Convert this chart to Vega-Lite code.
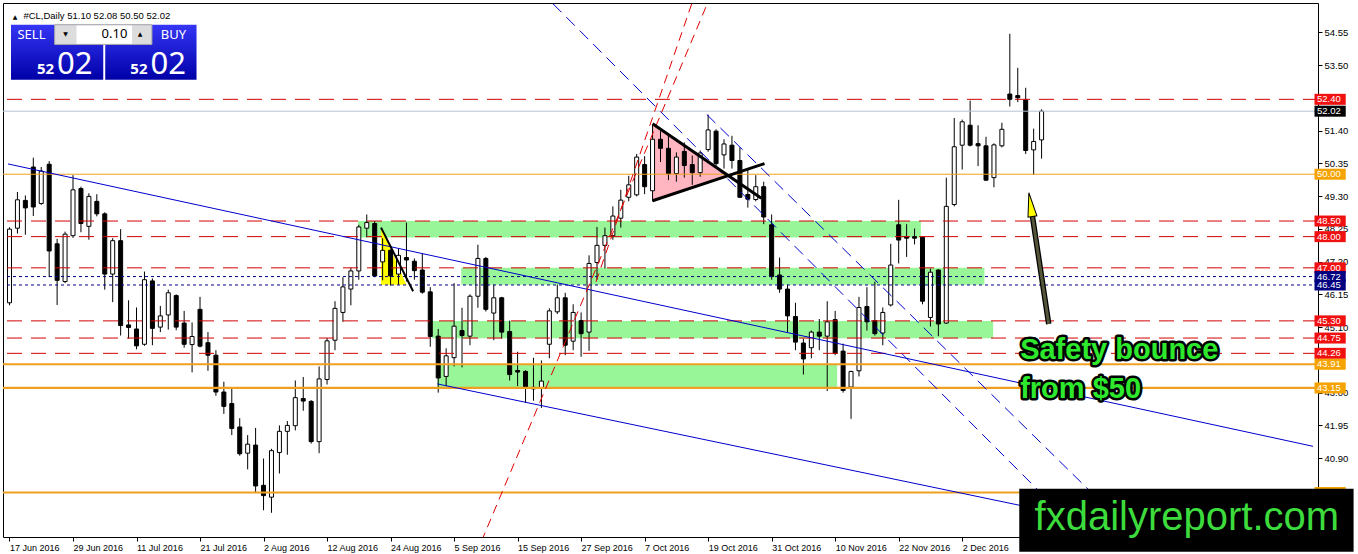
{
"$schema":"https://vega.github.io/schema/vega-lite/v6.json",
"width":1315,"height":534,
"autosize":{"type":"none"},
"padding":{"left":3,"top":3,"right":40,"bottom":17},
"background":"white",
"config":{"view":{"stroke":"black","strokeWidth":1},"axis":{"grid":false,"domain":false}},
"resolve":{"axis":{"x":"independent","y":"independent"}},
"datasets":{
"candles":[
{"i":0,"o":45.88,"h":48.30,"l":45.80,"c":48.24},
{"i":1,"o":48.27,"h":49.43,"l":48.10,"c":49.18},
{"i":2,"o":49.16,"h":49.32,"l":48.06,"c":48.92},
{"i":3,"o":50.23,"h":50.53,"l":48.66,"c":48.95},
{"i":4,"o":49.06,"h":50.23,"l":49.02,"c":50.10},
{"i":5,"o":50.32,"h":50.42,"l":46.70,"c":47.54},
{"i":6,"o":47.77,"h":47.93,"l":45.81,"c":46.60},
{"i":7,"o":46.56,"h":48.16,"l":46.51,"c":48.08},
{"i":8,"o":48.03,"h":49.97,"l":47.96,"c":49.50},
{"i":9,"o":49.54,"h":49.60,"l":48.14,"c":48.42},
{"i":10,"o":48.33,"h":49.39,"l":47.90,"c":49.29},
{"i":11,"o":49.13,"h":49.36,"l":48.65,"c":48.73},
{"i":12,"o":48.73,"h":48.78,"l":46.30,"c":46.80},
{"i":13,"o":46.80,"h":47.95,"l":45.90,"c":47.87},
{"i":14,"o":47.87,"h":48.24,"l":44.83,"c":45.15},
{"i":15,"o":45.17,"h":45.96,"l":44.73,"c":45.09},
{"i":16,"o":45.04,"h":45.73,"l":44.39,"c":44.50},
{"i":17,"o":44.55,"h":46.88,"l":44.50,"c":46.62},
{"i":18,"o":46.58,"h":46.66,"l":44.52,"c":45.06},
{"i":19,"o":45.10,"h":45.78,"l":44.94,"c":45.46},
{"i":20,"o":45.49,"h":46.30,"l":45.02,"c":46.20},
{"i":21,"o":46.11,"h":46.15,"l":45.00,"c":45.10},
{"i":22,"o":45.23,"h":45.62,"l":44.44,"c":44.55},
{"i":23,"o":44.54,"h":45.25,"l":43.65,"c":44.80},
{"i":24,"o":45.67,"h":46.07,"l":44.45,"c":44.49},
{"i":25,"o":44.60,"h":44.94,"l":43.70,"c":44.20},
{"i":26,"o":44.20,"h":44.36,"l":42.90,"c":43.02},
{"i":27,"o":43.02,"h":43.35,"l":42.32,"c":42.56},
{"i":28,"o":42.65,"h":43.18,"l":41.64,"c":41.85},
{"i":29,"o":41.90,"h":42.18,"l":40.98,"c":41.04},
{"i":30,"o":41.06,"h":41.64,"l":40.54,"c":41.35},
{"i":31,"o":41.32,"h":41.87,"l":39.78,"c":40.01},
{"i":32,"o":40.03,"h":40.89,"l":39.23,"c":39.70},
{"i":33,"o":39.65,"h":41.20,"l":39.15,"c":41.14},
{"i":34,"o":41.08,"h":41.95,"l":40.41,"c":41.76},
{"i":35,"o":41.76,"h":42.09,"l":41.01,"c":41.95},
{"i":36,"o":41.94,"h":43.39,"l":41.79,"c":42.84},
{"i":37,"o":42.81,"h":43.50,"l":42.42,"c":42.73},
{"i":38,"o":42.72,"h":42.76,"l":41.37,"c":41.43},
{"i":39,"o":41.43,"h":43.84,"l":41.06,"c":43.44},
{"i":40,"o":43.42,"h":44.75,"l":43.26,"c":44.66},
{"i":41,"o":44.68,"h":45.93,"l":44.36,"c":45.70},
{"i":42,"o":45.57,"h":46.70,"l":45.27,"c":46.39},
{"i":43,"o":46.32,"h":47.01,"l":45.80,"c":46.90},
{"i":44,"o":46.90,"h":48.38,"l":46.62,"c":48.31},
{"i":45,"o":48.27,"h":48.71,"l":47.98,"c":48.45},
{"i":46,"o":48.42,"h":48.50,"l":46.70,"c":46.74},
{"i":47,"o":47.19,"h":47.95,"l":46.60,"c":47.56},
{"i":48,"o":47.56,"h":47.60,"l":46.43,"c":46.74},
{"i":49,"o":46.80,"h":47.61,"l":46.46,"c":47.40},
{"i":50,"o":47.33,"h":48.45,"l":46.56,"c":47.25},
{"i":51,"o":47.21,"h":47.30,"l":46.62,"c":46.91},
{"i":52,"o":46.93,"h":47.46,"l":46.17,"c":46.22},
{"i":53,"o":46.23,"h":46.38,"l":44.47,"c":44.80},
{"i":54,"o":44.81,"h":45.04,"l":43.00,"c":43.47},
{"i":55,"o":43.52,"h":44.42,"l":43.21,"c":44.18},
{"i":56,"o":44.12,"h":46.51,"l":43.84,"c":45.13},
{"i":57,"o":44.99,"h":45.72,"l":43.81,"c":44.83},
{"i":58,"o":44.81,"h":46.15,"l":44.52,"c":46.09},
{"i":59,"o":46.09,"h":47.74,"l":45.72,"c":47.30},
{"i":60,"o":47.30,"h":47.35,"l":45.60,"c":45.67},
{"i":61,"o":45.55,"h":46.46,"l":44.68,"c":46.04},
{"i":62,"o":46.04,"h":46.07,"l":44.73,"c":44.94},
{"i":63,"o":44.96,"h":45.31,"l":43.39,"c":43.58},
{"i":64,"o":43.71,"h":44.31,"l":43.21,"c":43.66},
{"i":65,"o":43.68,"h":43.72,"l":42.68,"c":43.14},
{"i":66,"o":43.17,"h":44.12,"l":42.74,"c":43.12},
{"i":67,"o":43.14,"h":44.03,"l":42.51,"c":43.37},
{"i":68,"o":44.55,"h":45.70,"l":44.10,"c":45.62},
{"i":69,"o":45.59,"h":46.46,"l":45.52,"c":46.04},
{"i":70,"o":46.04,"h":46.20,"l":44.20,"c":44.52},
{"i":71,"o":44.65,"h":45.83,"l":44.36,"c":45.57},
{"i":72,"o":45.31,"h":45.57,"l":44.15,"c":44.89},
{"i":73,"o":44.94,"h":47.40,"l":44.34,"c":47.14},
{"i":74,"o":47.17,"h":48.31,"l":46.62,"c":47.72},
{"i":75,"o":47.72,"h":48.29,"l":46.98,"c":48.03},
{"i":76,"o":48.03,"h":48.97,"l":47.90,"c":48.66},
{"i":77,"o":48.59,"h":49.50,"l":48.29,"c":49.17},
{"i":78,"o":49.26,"h":49.95,"l":49.13,"c":49.66},
{"i":79,"o":49.34,"h":50.65,"l":49.29,"c":50.55},
{"i":80,"o":50.31,"h":50.58,"l":49.36,"c":49.60},
{"i":81,"o":49.47,"h":51.59,"l":49.13,"c":51.12},
{"i":82,"o":51.12,"h":51.38,"l":50.39,"c":50.83},
{"i":83,"o":50.83,"h":51.23,"l":49.81,"c":50.02},
{"i":84,"o":50.02,"h":50.70,"l":49.76,"c":50.55},
{"i":85,"o":50.73,"h":51.02,"l":49.89,"c":50.28},
{"i":86,"o":50.31,"h":50.60,"l":49.66,"c":50.05},
{"i":87,"o":50.05,"h":50.76,"l":49.92,"c":50.68},
{"i":88,"o":50.79,"h":51.91,"l":50.72,"c":51.42},
{"i":89,"o":51.38,"h":51.44,"l":50.23,"c":50.34},
{"i":90,"o":50.62,"h":51.12,"l":50.18,"c":50.97},
{"i":91,"o":50.93,"h":51.23,"l":50.18,"c":50.44},
{"i":92,"o":50.44,"h":50.86,"l":49.24,"c":49.26},
{"i":93,"o":49.35,"h":50.20,"l":48.93,"c":49.20},
{"i":94,"o":49.19,"h":49.97,"l":49.13,"c":49.60},
{"i":95,"o":49.60,"h":49.76,"l":48.40,"c":48.63},
{"i":96,"o":48.38,"h":48.71,"l":46.62,"c":46.72},
{"i":97,"o":46.77,"h":47.33,"l":46.20,"c":46.32},
{"i":98,"o":46.32,"h":46.46,"l":44.94,"c":45.46},
{"i":99,"o":45.44,"h":45.88,"l":44.36,"c":44.62},
{"i":100,"o":44.59,"h":44.73,"l":43.58,"c":44.08},
{"i":101,"o":44.44,"h":44.99,"l":44.10,"c":44.94},
{"i":102,"o":44.94,"h":45.36,"l":44.36,"c":44.81},
{"i":103,"o":44.81,"h":45.93,"l":43.05,"c":45.27},
{"i":104,"o":45.34,"h":45.62,"l":44.20,"c":44.26},
{"i":105,"o":44.33,"h":44.57,"l":43.00,"c":43.07},
{"i":106,"o":43.18,"h":43.70,"l":42.16,"c":43.68},
{"i":107,"o":43.70,"h":46.07,"l":43.52,"c":45.73},
{"i":108,"o":45.76,"h":46.38,"l":44.99,"c":45.27},
{"i":109,"o":45.31,"h":46.56,"l":44.83,"c":44.89},
{"i":110,"o":44.91,"h":45.73,"l":44.52,"c":45.57},
{"i":111,"o":45.81,"h":47.77,"l":45.76,"c":47.09},
{"i":112,"o":48.38,"h":49.18,"l":47.14,"c":47.89},
{"i":113,"o":48.00,"h":48.40,"l":47.35,"c":47.95},
{"i":114,"o":48.00,"h":48.26,"l":47.75,"c":47.95},
{"i":115,"o":47.98,"h":48.00,"l":45.83,"c":45.93},
{"i":116,"o":45.41,"h":46.98,"l":45.12,"c":46.86},
{"i":117,"o":46.93,"h":46.95,"l":44.81,"c":45.20},
{"i":118,"o":45.23,"h":49.89,"l":45.20,"c":48.97},
{"i":119,"o":49.03,"h":51.80,"l":48.97,"c":50.88},
{"i":120,"o":50.93,"h":51.75,"l":50.15,"c":51.68},
{"i":121,"o":51.57,"h":52.36,"l":50.89,"c":50.93},
{"i":122,"o":50.98,"h":51.57,"l":50.26,"c":50.91},
{"i":123,"o":50.91,"h":51.20,"l":49.78,"c":49.81},
{"i":124,"o":49.89,"h":50.99,"l":49.58,"c":50.94},
{"i":125,"o":50.91,"h":51.65,"l":50.86,"c":51.44},
{"i":126,"o":52.57,"h":54.50,"l":52.17,"c":52.40},
{"i":127,"o":52.52,"h":53.41,"l":52.31,"c":52.45},
{"i":128,"o":52.38,"h":52.77,"l":50.65,"c":50.76},
{"i":129,"o":50.78,"h":51.46,"l":49.98,"c":51.05},
{"i":130,"o":51.10,"h":52.08,"l":50.50,"c":52.02}
],
"zones":[
{"i1":43.9,"i2":114.8,"p1":48.50,"p2":47.97},
{"i1":56.9,"i2":122.8,"p1":47.00,"p2":46.46},
{"i1":53.25,"i2":123.9,"p1":45.30,"p2":44.74},
{"i1":53.9,"i2":104.25,"p1":43.91,"p2":43.14}
],
"levels":[
{"p":52.40,"type":"level"},{"p":48.50,"type":"level"},{"p":48.00,"type":"level"},{"p":47.00,"type":"level"},
{"p":45.30,"type":"level"},{"p":44.75,"type":"level"},{"p":44.26,"type":"level"},
{"p":46.72,"type":"pivot"},{"p":46.45,"type":"pivot"},
{"p":50.00,"type":"round"},
{"p":43.91,"type":"key"},{"p":43.15,"type":"key"},{"p":39.80,"type":"key"},
{"p":52.02,"type":"bid"}
],
"lines":[
{"line":"trend1","i":-0.1875,"p":50.33},{"line":"trend1","i":164.1875,"p":41.28},
{"line":"trend2","i":53.9,"p":43.28},{"line":"trend2","i":164.1875,"p":37.43},
{"line":"fan1","i":60,"p":57.62},{"line":"fan1","i":140,"p":37.21},
{"line":"fan2","i":87.84,"p":51.91},{"line":"fan2","i":145,"p":37.62},
{"line":"rise1","i":58,"p":37.36},{"line":"rise1","i":90,"p":56.74},
{"line":"rise2","i":73.875,"p":46.55},{"line":"rise2","i":88,"p":56.99},
{"line":"penUp","i":81,"p":51.62},{"line":"penUp","i":94.7,"p":49.23},
{"line":"penLow","i":81,"p":49.15},{"line":"penLow","i":95.1,"p":50.34},
{"line":"flag","i":46.8,"p":48.29},{"line":"flag","i":50.84,"p":46.25}
],
"pennant":[{"i":81,"top":51.62,"bot":49.15},{"i":90.4,"top":49.94,"bot":49.94}],
"flag":[{"i":46.8,"top":48.29,"bot":46.46},{"i":50.0,"top":46.46,"bot":46.46}],
"arrow":[{"i":130.9,"p":45.20},{"i":128.85,"p":48.65}],
"arrowHead":[{"i":128.68,"p":48.93}],
"notes":[{"t":"Safety bounce","i":127.3,"p":44.07},{"t":"from $50","i":127.3,"p":42.84}],
"brand":[{"t":"fxdailyreport.com","i":148.3,"p":38.6,"i1":127.19,"i2":169.3,"p1":39.92,"p2":37.9}],
"panel":[
{"part":"sell","i1":0.19,"i2":11.81,"p1":54.79,"p2":53.03},
{"part":"buy","i1":12.06,"i2":23.56,"p1":54.79,"p2":53.03},
{"part":"spin","i1":5.69,"i2":17.94,"p1":54.79,"p2":54.16},
{"part":"input","i1":8.44,"i2":15.44,"p1":54.77,"p2":54.18}
],
"panelText":[
{"role":"side","t":"SELL","i":2.77,"p":54.45},
{"role":"side","t":"BUY","i":20.65,"p":54.45},
{"role":"lot","t":"0.10","i":14.85,"p":54.48},
{"role":"step","t":"▼","i":7.06,"p":54.48},
{"role":"step","t":"▲","i":16.44,"p":54.48},
{"role":"pips","t":"52","i":5.63,"p":53.22},
{"role":"pips","t":"52","i":17.38,"p":53.22},
{"role":"quote","t":"02","i":6.0,"p":53.22},
{"role":"quote","t":"02","i":17.75,"p":53.22},
{"role":"symbol","t":"#CL,Daily  51.10 52.08 50.50 52.02","i":1.75,"p":54.965},
{"role":"marker","t":"▲","i":0.69,"p":54.965}
]
},
"layer":[
{"data":{"name":"zones"},
 "mark":{"type":"rect","color":"#98f598"},
 "encoding":{
  "x":{"field":"i1","type":"quantitative","scale":{"domain":[-0.1875,164.1875],"nice":false,"zero":false},
   "axis":{"title":null,"values":[0,8,16,24,32,40,48,56,64,72,80,88,96,104,112,120],
    "labelExpr":"['17 Jun 2016','29 Jun 2016','11 Jul 2016','21 Jul 2016','2 Aug 2016','12 Aug 2016','24 Aug 2016','5 Sep 2016','15 Sep 2016','27 Sep 2016','7 Oct 2016','19 Oct 2016','31 Oct 2016','10 Nov 2016','22 Nov 2016','2 Dec 2016'][round(datum.value/8)]",
    "labelAlign":"left","labelBaseline":"top","labelFont":"Liberation Sans","labelFontSize":9,"labelColor":"#000","labelPadding":2,
    "tickSize":4,"tickColor":"#000","labelOverlap":false,"labelFlush":false,"labelBound":false,"domain":false,"grid":false,"zindex":0}},
  "x2":{"field":"i2"},
  "y":{"field":"p1","type":"quantitative","scale":{"domain":[38.534,55.327],"nice":false,"zero":false},
   "axis":{"title":null,"orient":"right","values":[54.55,53.5,51.4,50.35,49.3,48.25,47.2,46.15,45.1,43,41.95,40.9],
    "format":".2f","labelFont":"Liberation Sans","labelFontSize":9.5,"labelColor":"#000","labelPadding":2,"labelBaseline":"middle",
    "tickSize":4,"tickColor":"#000","labelOverlap":false,"labelFlush":false,"labelBound":false,"domain":false,"grid":false,"zindex":0}},
  "y2":{"field":"p2"}}},
{"data":{"name":"flag"},"mark":{"type":"area","color":"#ffff00","opacity":1},
 "encoding":{"x":{"field":"i","type":"quantitative","axis":null},"y":{"field":"top","type":"quantitative","axis":null},"y2":{"field":"bot"}}},
{"data":{"name":"pennant"},"mark":{"type":"area","color":"#ffb6c1","opacity":1},
 "encoding":{"x":{"field":"i","type":"quantitative","axis":null},"y":{"field":"top","type":"quantitative","axis":null},"y2":{"field":"bot"}}},
{"data":{"name":"candles"},"mark":{"type":"rule","color":"black","strokeWidth":1},
 "encoding":{"x":{"field":"i","type":"quantitative","axis":null},"y":{"field":"l","type":"quantitative","axis":null},"y2":{"field":"h"}}},
{"data":{"name":"candles"},"mark":{"type":"bar","orient":"vertical","width":4,"stroke":"black","strokeWidth":1},
 "encoding":{"x":{"field":"i","type":"quantitative","axis":null},"y":{"field":"o","type":"quantitative","axis":null},"y2":{"field":"c"},
  "fill":{"condition":{"test":"datum.c >= datum.o","value":"white"},"value":"black"}}},
{"data":{"name":"levels"},"transform":[{"filter":"datum.type == 'level'"}],
 "mark":{"type":"rule","color":"#d40000","strokeWidth":1,"strokeDash":[15,9]},
 "encoding":{"y":{"field":"p","type":"quantitative","axis":null}}},
{"data":{"name":"levels"},"transform":[{"filter":"datum.type == 'pivot'"}],
 "mark":{"type":"rule","color":"#000080","strokeWidth":1,"strokeDash":[3,3]},
 "encoding":{"y":{"field":"p","type":"quantitative","axis":null}}},
{"data":{"name":"levels"},"transform":[{"filter":"datum.type == 'round'"}],
 "mark":{"type":"rule","color":"#f0a020","strokeWidth":1},
 "encoding":{"y":{"field":"p","type":"quantitative","axis":null}}},
{"data":{"name":"levels"},"transform":[{"filter":"datum.type == 'key'"}],
 "mark":{"type":"rule","color":"#f0a020","strokeWidth":2.2},
 "encoding":{"y":{"field":"p","type":"quantitative","axis":null}}},
{"data":{"name":"levels"},"transform":[{"filter":"datum.type == 'bid'"}],
 "mark":{"type":"rule","color":"#b4c3d2","strokeWidth":1},
 "encoding":{"y":{"field":"p","type":"quantitative","axis":null}}},
{"data":{"name":"lines"},"transform":[{"filter":"datum.line == 'trend1' || datum.line == 'trend2'"}],
 "mark":{"type":"line","color":"#0000cd","strokeWidth":1,"clip":true},
 "encoding":{"x":{"field":"i","type":"quantitative","axis":null},"y":{"field":"p","type":"quantitative","axis":null},"detail":{"field":"line"}}},
{"data":{"name":"lines"},"transform":[{"filter":"datum.line == 'fan1' || datum.line == 'fan2'"}],
 "mark":{"type":"line","color":"#0000cd","strokeWidth":1,"strokeDash":[12,7],"clip":true},
 "encoding":{"x":{"field":"i","type":"quantitative","axis":null},"y":{"field":"p","type":"quantitative","axis":null},"detail":{"field":"line"}}},
{"data":{"name":"lines"},"transform":[{"filter":"datum.line == 'rise1' || datum.line == 'rise2'"}],
 "mark":{"type":"line","color":"#e00000","strokeWidth":1,"strokeDash":[9,6],"clip":true},
 "encoding":{"x":{"field":"i","type":"quantitative","axis":null},"y":{"field":"p","type":"quantitative","axis":null},"detail":{"field":"line"}}},
{"data":{"name":"lines"},"transform":[{"filter":"datum.line == 'penUp' || datum.line == 'penLow'"}],
 "mark":{"type":"line","color":"black","strokeWidth":3,"clip":true},
 "encoding":{"x":{"field":"i","type":"quantitative","axis":null},"y":{"field":"p","type":"quantitative","axis":null},"detail":{"field":"line"}}},
{"data":{"name":"lines"},"transform":[{"filter":"datum.line == 'flag'"}],
 "mark":{"type":"line","color":"black","strokeWidth":2,"clip":true},
 "encoding":{"x":{"field":"i","type":"quantitative","axis":null},"y":{"field":"p","type":"quantitative","axis":null}}},
{"data":{"name":"arrow"},"mark":{"type":"line","color":"black","strokeWidth":5.5},
 "encoding":{"x":{"field":"i","type":"quantitative","axis":null},"y":{"field":"p","type":"quantitative","axis":null}}},
{"data":{"name":"arrow"},"mark":{"type":"line","color":"#55553a","strokeWidth":3},
 "encoding":{"x":{"field":"i","type":"quantitative","axis":null},"y":{"field":"p","type":"quantitative","axis":null}}},
{"data":{"name":"arrowHead"},"mark":{"type":"point","shape":"M0,-1L0.3,0.6L-0.3,0.6Z","size":900,"angle":351.4,"filled":true,"fill":"#ffff00","stroke":"black","strokeWidth":1,"opacity":1},
 "encoding":{"x":{"field":"i","type":"quantitative","axis":null},"y":{"field":"p","type":"quantitative","axis":null}}},
{"data":{"name":"notes"},"mark":{"type":"text","font":"Liberation Sans","fontWeight":"bold","fontSize":29,"align":"left","baseline":"alphabetic","fill":"black","stroke":"black","strokeWidth":5,"strokeJoin":"round"},
 "encoding":{"x":{"field":"i","type":"quantitative","axis":null},"y":{"field":"p","type":"quantitative","axis":null},"text":{"field":"t"}}},
{"data":{"name":"notes"},"mark":{"type":"text","font":"Liberation Sans","fontWeight":"bold","fontSize":29,"align":"left","baseline":"alphabetic","fill":"#2ee82e"},
 "encoding":{"x":{"field":"i","type":"quantitative","axis":null},"y":{"field":"p","type":"quantitative","axis":null},"text":{"field":"t"}}},
{"data":{"name":"levels"},"mark":{"type":"bar","orient":"horizontal","height":11},
 "encoding":{"x":{"datum":164.375,"type":"quantitative","axis":null},"x2":{"datum":168.31},"y":{"field":"p","type":"quantitative","axis":null},
  "color":{"field":"type","type":"nominal","scale":{"domain":["level","pivot","round","key","bid"],"range":["#f01010","#000080","#f5a300","#f5a300","#000000"]},"legend":null}}},
{"data":{"name":"levels"},"transform":[{"filter":"datum.p > 40"}],"mark":{"type":"text","font":"Liberation Sans","fontSize":9.5,"align":"left","baseline":"middle","color":"white"},
 "encoding":{"x":{"datum":164.69,"type":"quantitative","axis":null},"y":{"field":"p","type":"quantitative","axis":null},"text":{"field":"p","format":".2f"}}},
{"data":{"name":"brand"},"mark":{"type":"rect","color":"black"},
 "encoding":{"x":{"field":"i1","type":"quantitative","axis":null},"x2":{"field":"i2"},"y":{"field":"p1","type":"quantitative","axis":null},"y2":{"field":"p2"}}},
{"data":{"name":"brand"},"mark":{"type":"text","font":"Liberation Sans","fontSize":40,"align":"center","baseline":"alphabetic","color":"#3ddc3d"},
 "encoding":{"x":{"field":"i","type":"quantitative","axis":null},"y":{"field":"p","type":"quantitative","axis":null},"text":{"field":"t"}}},
{"data":{"name":"panel"},"transform":[{"filter":"datum.part == 'sell' || datum.part == 'buy'"}],
 "mark":{"type":"rect","fill":{"gradient":"linear","x1":0,"y1":0,"x2":0,"y2":1,"stops":[{"offset":0,"color":"#3535f5"},{"offset":1,"color":"#0000a8"}]}},
 "encoding":{"x":{"field":"i1","type":"quantitative","axis":null},"x2":{"field":"i2"},"y":{"field":"p1","type":"quantitative","axis":null},"y2":{"field":"p2"}}},
{"data":{"name":"panel"},"transform":[{"filter":"datum.part == 'spin'"}],
 "mark":{"type":"rect","fill":"#dcdcdc","stroke":"#a8a8a8","strokeWidth":1},
 "encoding":{"x":{"field":"i1","type":"quantitative","axis":null},"x2":{"field":"i2"},"y":{"field":"p1","type":"quantitative","axis":null},"y2":{"field":"p2"}}},
{"data":{"name":"panel"},"transform":[{"filter":"datum.part == 'input'"}],
 "mark":{"type":"rect","fill":"white"},
 "encoding":{"x":{"field":"i1","type":"quantitative","axis":null},"x2":{"field":"i2"},"y":{"field":"p1","type":"quantitative","axis":null},"y2":{"field":"p2"}}},
{"data":{"name":"panelText"},"transform":[{"filter":"datum.role == 'side'"}],
 "mark":{"type":"text","font":"Noto Sans","fontSize":13,"align":"center","baseline":"middle","color":"white"},
 "encoding":{"x":{"field":"i","type":"quantitative","axis":null},"y":{"field":"p","type":"quantitative","axis":null},"text":{"field":"t"}}},
{"data":{"name":"panelText"},"transform":[{"filter":"datum.role == 'lot'"}],
 "mark":{"type":"text","font":"Noto Sans","fontSize":13,"align":"right","baseline":"middle","color":"black"},
 "encoding":{"x":{"field":"i","type":"quantitative","axis":null},"y":{"field":"p","type":"quantitative","axis":null},"text":{"field":"t"}}},
{"data":{"name":"panelText"},"transform":[{"filter":"datum.role == 'step'"}],
 "mark":{"type":"text","font":"DejaVu Sans","fontSize":6,"align":"center","baseline":"middle","color":"black"},
 "encoding":{"x":{"field":"i","type":"quantitative","axis":null},"y":{"field":"p","type":"quantitative","axis":null},"text":{"field":"t"}}},
{"data":{"name":"panelText"},"transform":[{"filter":"datum.role == 'pips'"}],
 "mark":{"type":"text","font":"Noto Sans","fontSize":15,"fontWeight":"bold","align":"right","baseline":"alphabetic","color":"white"},
 "encoding":{"x":{"field":"i","type":"quantitative","axis":null},"y":{"field":"p","type":"quantitative","axis":null},"text":{"field":"t"}}},
{"data":{"name":"panelText"},"transform":[{"filter":"datum.role == 'quote'"}],
 "mark":{"type":"text","font":"Noto Sans","fontSize":31,"align":"left","baseline":"alphabetic","color":"white"},
 "encoding":{"x":{"field":"i","type":"quantitative","axis":null},"y":{"field":"p","type":"quantitative","axis":null},"text":{"field":"t"}}},
{"data":{"name":"panelText"},"transform":[{"filter":"datum.role == 'symbol'"}],
 "mark":{"type":"text","font":"Liberation Sans","fontSize":9.5,"align":"left","baseline":"alphabetic","color":"black"},
 "encoding":{"x":{"field":"i","type":"quantitative","axis":null},"y":{"field":"p","type":"quantitative","axis":null},"text":{"field":"t"}}},
{"data":{"name":"panelText"},"transform":[{"filter":"datum.role == 'marker'"}],
 "mark":{"type":"text","font":"DejaVu Sans","fontSize":6,"align":"center","baseline":"alphabetic","color":"black"},
 "encoding":{"x":{"field":"i","type":"quantitative","axis":null},"y":{"field":"p","type":"quantitative","axis":null},"text":{"field":"t"}}}
]
}
